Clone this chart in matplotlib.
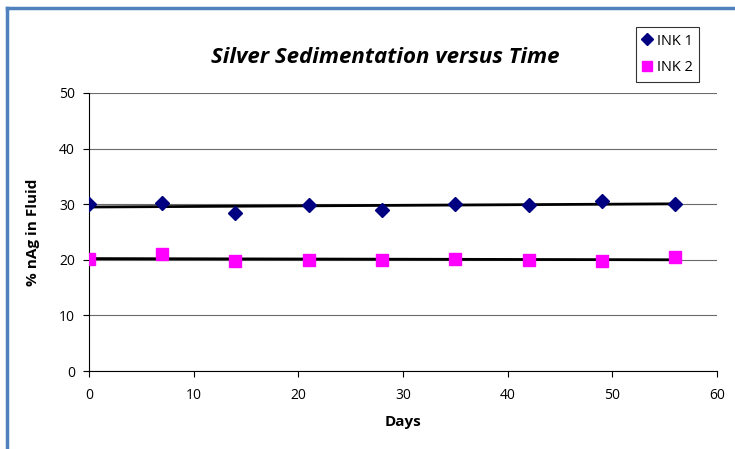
import matplotlib
matplotlib.use('Agg')
import matplotlib.pyplot as plt
import numpy as np
from matplotlib.lines import Line2D

days = [0, 7, 14, 21, 28, 35, 42, 49, 56]
ink1 = [30.0, 30.2, 28.4, 29.9, 29.0, 30.0, 29.9, 30.6, 30.0]
ink2 = [20.1, 21.0, 19.8, 19.9, 19.9, 20.1, 19.9, 19.8, 20.5]

plt.rcParams['font.family'] = ['Open Sans', 'DejaVu Sans']

fig = plt.figure(figsize=(7.35, 4.49), dpi=100)
ax = fig.add_axes([0.121, 0.1737, 0.8545, 0.6192])

# outer chart border (left and top edges only)
border = '#4F81BD'
fig.add_artist(Line2D([0.0095, 0.0095], [0, 0.982], color=border, lw=2.5, transform=fig.transFigure))
fig.add_artist(Line2D([0.0095, 1.0], [0.982, 0.982], color=border, lw=2.5, transform=fig.transFigure))

ax.grid(axis='y', color='#6a6a6a', lw=0.8)
ax.set_axisbelow(True)

x = np.array(days)
for vals in (ink1, ink2):
    k, b = np.polyfit(x, vals, 1)
    ax.plot(x, k * x + b, color='black', lw=2, zorder=2)

ax.plot(days, ink1, linestyle='none', marker='D', ms=7, color='#000080', label='INK 1', zorder=3)
ax.plot(days, ink2, linestyle='none', marker='s', ms=9, color='#FF00FF', label='INK 2', zorder=3)

ax.set_xlim(0, 60)
ax.set_ylim(0, 50)
ax.set_xticks(range(0, 61, 10))
ax.set_yticks(range(0, 51, 10))
ax.tick_params(direction='out', length=4, labelsize=10, colors='black', pad=6)
ax.tick_params(axis='x', pad=8)
for s in ('top', 'right'):
    ax.spines[s].set_visible(False)
for s in ('left', 'bottom'):
    ax.spines[s].set_linewidth(0.8)

ax.set_xlabel('Days', fontsize=11, fontweight='bold', labelpad=9)
ax.set_ylabel('% nAg in Fluid', fontsize=11, fontweight='bold', labelpad=14)

fig.text(0.524, 0.873, 'Silver Sedimentation versus Time', fontsize=16,
         fontweight='bold', fontstyle='italic', ha='center', va='center')

leg = fig.legend(loc='upper left', bbox_to_anchor=(0.865, 0.94), frameon=True,
                 fancybox=False, edgecolor='black', fontsize=10.5, handlelength=0.7,
                 handletextpad=0.3, borderpad=0.45, borderaxespad=0,
                 labelspacing=0.8, markerscale=0.85)
leg.get_frame().set_linewidth(0.8)

fig.savefig('out.png', dpi=100)
